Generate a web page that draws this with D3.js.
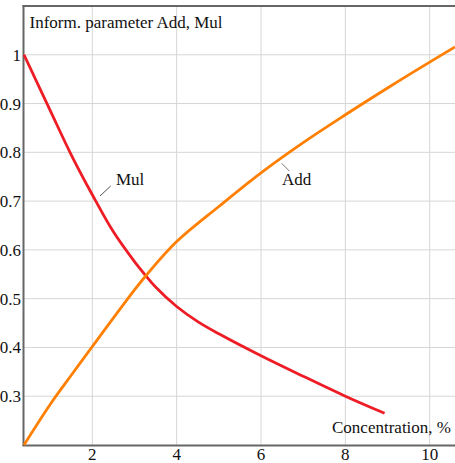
<!DOCTYPE html>
<html><head><meta charset="utf-8">
<script src="https://cdn.jsdelivr.net/npm/d3@7"></script>
<style>body{margin:0;background:#fff}svg{display:block}text{font-family:"Liberation Serif","Times New Roman",serif;fill:#111}</style>
</head><body><svg id="c" width="455" height="463"></svg>
<script>
const mulX = [0.38, 1.0, 1.5, 2.0, 2.5, 3.0, 3.26, 3.5, 4.0, 4.5, 5.0, 6.0, 7.0, 8.0, 8.93];
const mulY = [1.0, 0.886, 0.795, 0.713, 0.637, 0.576, 0.548, 0.524, 0.484, 0.453, 0.428, 0.383, 0.341, 0.30, 0.265];
const addX = [0.38, 1.0, 1.5, 2.0, 3.0, 3.26, 4.0, 5.0, 6.0, 7.0, 8.0, 9.0, 10.0, 10.6];
const addY = [0.2, 0.283, 0.343, 0.402, 0.518, 0.546, 0.617, 0.689, 0.758, 0.82, 0.877, 0.932, 0.985, 1.016];
const xTicks = [2, 4, 6, 8, 10];
const yTicks = [0.3, 0.4, 0.5, 0.6, 0.7, 0.8, 0.9, 1];
const yTickLabels = ["0.3", "0.4", "0.5", "0.6", "0.7", "0.8", "0.9", "1"];

const svg = d3.select("#c");
const x = d3.scaleLinear().domain([0.38, 10.6]).range([24, 455]);
const y = d3.scaleLinear().domain([0.2, 1.1]).range([445, 6]);

// grid
svg.append("g").selectAll("line").data(xTicks).join("line")
  .attr("x1", d => x(d)).attr("x2", d => x(d)).attr("y1", y(1.1)).attr("y2", y(0.2))
  .attr("stroke", "#d6d6d6").attr("stroke-width", 1);
svg.append("g").selectAll("line").data(yTicks).join("line")
  .attr("x1", x(0.38)).attr("x2", 455).attr("y1", d => y(d)).attr("y2", d => y(d))
  .attr("stroke", "#d6d6d6").attr("stroke-width", 1);

// axes frame
svg.append("line").attr("x1", 23.5).attr("x2", 23.5).attr("y1", 5).attr("y2", 446).attr("stroke", "#666").attr("stroke-width", 2);
svg.append("line").attr("x1", 22.5).attr("x2", 455).attr("y1", 445.5).attr("y2", 445.5).attr("stroke", "#666").attr("stroke-width", 2);
svg.append("line").attr("x1", 22.5).attr("x2", 455).attr("y1", 6).attr("y2", 6).attr("stroke", "#666").attr("stroke-width", 2);

// tick labels
svg.append("g").selectAll("text").data(yTicks).join("text")
  .attr("x", 21).attr("y", d => y(d)).attr("dy", "0.35em").attr("text-anchor", "end")
  .attr("font-size", 17).text((d, i) => yTickLabels[i]);
svg.append("g").selectAll("text").data(xTicks).join("text")
  .attr("x", d => x(d)).attr("y", 460).attr("text-anchor", "middle")
  .attr("font-size", 17).text(d => d);

// lines
const line = d3.line().curve(d3.curveCatmullRom.alpha(0.5));
svg.append("path").attr("d", line(mulX.map((v, i) => [x(v), y(mulY[i])])))
  .attr("fill", "none").attr("stroke", "#ee1c25").attr("stroke-width", 2.8);
svg.append("path").attr("d", line(addX.map((v, i) => [x(v), y(addY[i])])))
  .attr("fill", "none").attr("stroke", "#ff8000").attr("stroke-width", 2.8);

// labels
svg.append("text").attr("x", 29.5).attr("y", 28).attr("font-size", 17).text("Inform. parameter Add, Mul");
svg.append("text").attr("x", 451).attr("y", 433).attr("text-anchor", "end").attr("font-size", 17).text("Concentration, %");
svg.append("line").attr("x1", 100).attr("y1", 196).attr("x2", 110.7).attr("y2", 186).attr("stroke", "#222").attr("stroke-width", 0.8);
svg.append("text").attr("x", 116).attr("y", 184.5).attr("font-size", 17).text("Mul");
svg.append("line").attr("x1", 281.7).attr("y1", 163.3).attr("x2", 289.3).attr("y2", 171).attr("stroke", "#555").attr("stroke-width", 0.8);
svg.append("text").attr("x", 282).attr("y", 184.5).attr("font-size", 17).text("Add");
</script></body></html>
